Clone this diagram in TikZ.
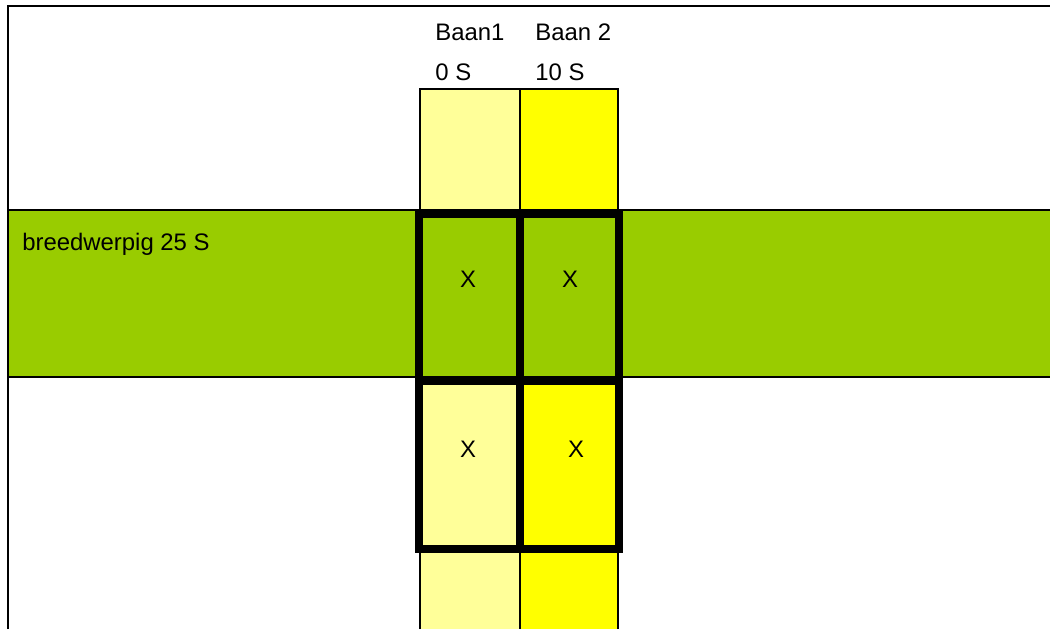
\documentclass[tikz,border=0pt]{standalone}
\usepackage{fontspec}
\setmainfont{Liberation Sans}
\usepackage{xcolor}
\definecolor{baanlicht}{HTML}{FFFF99}
\definecolor{baangeel}{HTML}{FFFF00}
\definecolor{werpgroen}{HTML}{99CC00}

\begin{document}
\begin{tikzpicture}[
  x=0.02cm, y=-0.02cm,
  font=\fontsize{13.6pt}{16pt}\selectfont,
  thinline/.style={draw=black, line width=1.1pt},
  thickline/.style={draw=black, line width=4.6pt},
  lanelabel/.style={anchor=base west, inner sep=0pt},
  cellmark/.style={anchor=base, inner sep=0pt}
]
  \useasboundingbox (0,0) rectangle (1050,629);
  \fill[white] (0,0) rectangle (1050,629);

  % Lanes running down the page.
  \fill[baanlicht] (420,89) rectangle (520,629);
  \fill[baangeel] (520,89) rectangle (618,629);
  \draw[thinline] (420,629) -- (420,89) -- (618,89) -- (618,629);
  \draw[thinline] (520,89) -- (520,629);

  % Cross band.
  \fill[werpgroen] (8,210) rectangle (1050,377);
  \draw[thinline] (8,210) -- (1050,210);
  \draw[thinline] (8,377) -- (1050,377);

  % Frame edges.
  \draw[thinline] (8,629) -- (8,6) -- (1050,6);

  % Overlap cells.
  \draw[thickline] (419,214) rectangle (619,549);
  \draw[thickline] (520,214) -- (520,549);
  \draw[thickline] (419,381) -- (619,381);

  \node[lanelabel] (baan1) at (435,40) {Baan1};
  \node[lanelabel] (baan2) at (535,40) {Baan 2};
  \node[lanelabel] (tijd1) at (435,80) {0 S};
  \node[lanelabel] (tijd2) at (535,80) {10 S};
  \node[lanelabel] (breed) at (22,250) {breedwerpig 25 S};

  \node[cellmark] (x11) at (468,287) {X};
  \node[cellmark] (x12) at (570,287) {X};
  \node[cellmark] (x21) at (468,457) {X};
  \node[cellmark] (x22) at (576,457) {X};
\end{tikzpicture}
\end{document}
